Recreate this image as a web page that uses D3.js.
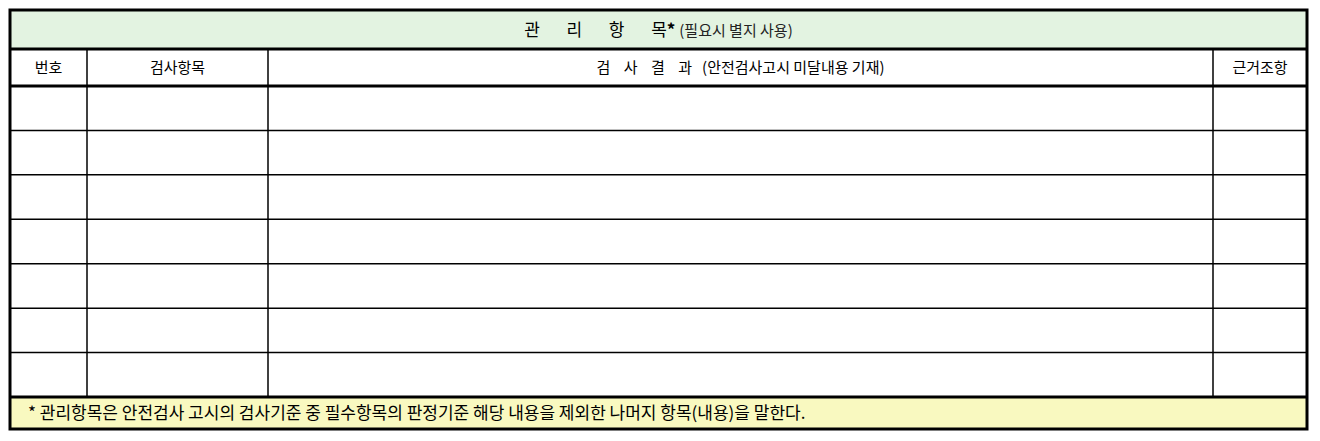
<!DOCTYPE html>
<html><head><meta charset="utf-8">
<script src="https://cdn.jsdelivr.net/npm/d3@7"></script>
<style>body{margin:0;background:#fff}text{font-family:"Noto Sans CJK KR",sans-serif;font-size:15px;fill:#000;white-space:pre}</style>
</head><body><svg id="c" width="1320" height="441"></svg>
<script>
// table content
var title = "관       리       항       목"
var titleNote = "(필요시 별지 사용)"
var columns = ["번호", "검사항목", "검    사    결    과   (안전검사고시 미달내용 기재)", "근거조항"]
var columnEdges = [10, 87, 268, 1213, 1307]
var rowCount = 7
var footnote = "* 관리항목은 안전검사 고시의 검사기준 중 필수항목의 판정기준 해당 내용을 제외한 나머지 항목(내용)을 말한다."

var svg = d3.select("#c")
var xLeft = 10, xRight = 1307, yTop = 10
var bandBottom = 49, headBottom = 86, bodyBottom = 397, footBottom = 429

var y = d3.scaleLinear().domain([0, rowCount]).range([headBottom, bodyBottom])

svg.append("rect").attr("x", xLeft).attr("y", yTop).attr("width", xRight - xLeft).attr("height", bandBottom - yTop).attr("fill", "#e3f3e1")
svg.append("rect").attr("x", xLeft).attr("y", bodyBottom).attr("width", xRight - xLeft).attr("height", footBottom - bodyBottom).attr("fill", "#f9f9c0")

// thin row lines
svg.selectAll(".row").data(d3.range(1, rowCount)).enter().append("line")
  .attr("x1", xLeft).attr("x2", xRight).attr("y1", d => y(d)).attr("y2", d => y(d))
  .attr("stroke", "#000").attr("stroke-width", 1.5)
// column lines
svg.selectAll(".col").data(columnEdges.slice(1, -1)).enter().append("line")
  .attr("x1", d => d).attr("x2", d => d).attr("y1", bandBottom).attr("y2", bodyBottom)
  .attr("stroke", "#000").attr("stroke-width", 1.5)
// thick lines
;[bandBottom, headBottom, bodyBottom].forEach(v => {
  svg.append("line").attr("x1", xLeft).attr("x2", xRight).attr("y1", v).attr("y2", v).attr("stroke", "#000").attr("stroke-width", 3)
})
svg.append("rect").attr("x", xLeft).attr("y", yTop).attr("width", xRight - xLeft).attr("height", footBottom - yTop)
  .attr("fill", "none").attr("stroke", "#000").attr("stroke-width", 3)

// title
var t = svg.append("text").attr("x", (xLeft + xRight) / 2).attr("y", 36).attr("text-anchor", "middle")
t.append("tspan").text(title).style("font-size", "17px")
t.append("tspan").text("* ").attr("font-weight", "bold").style("font-size", "17px")
t.append("tspan").text(titleNote).attr("fill", "#222")

svg.selectAll(".hd").data(columns).enter().append("text")
  .attr("x", (d, i) => (columnEdges[i] + columnEdges[i + 1]) / 2).attr("y", 73)
  .attr("text-anchor", "middle").text(d => d)

svg.append("text").attr("x", 28).attr("y", 419).style("font-size", "17px").text(footnote)
</script></body></html>
